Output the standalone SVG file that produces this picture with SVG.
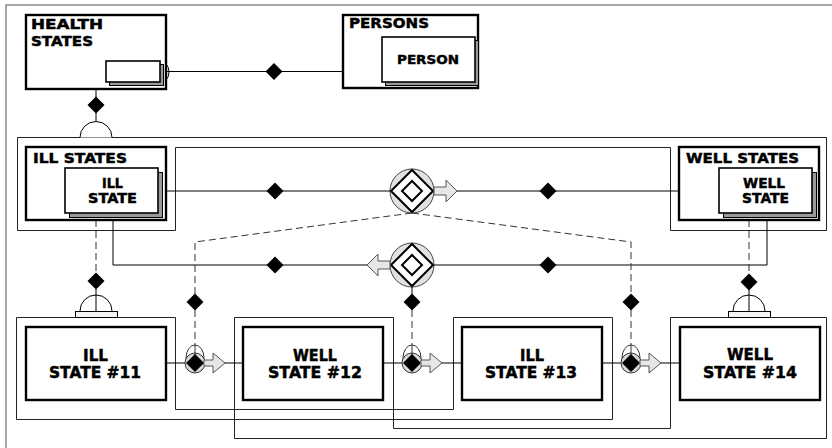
<svg xmlns="http://www.w3.org/2000/svg" width="832" height="448" viewBox="0 0 832 448">
<defs>
<style>
.frame{fill:#fff;stroke:#8a8a8a;stroke-width:1.5}
.group{fill:none;stroke:#222;stroke-width:1}
.box{fill:#fff;stroke:#000;stroke-width:2.4}
.sbox{fill:#fff;stroke:#000;stroke-width:1.6}
.shadow{fill:#9a9a9a;stroke:#000;stroke-width:1}
.lbl{font-family:"DejaVu Sans","Liberation Sans",sans-serif;font-weight:bold;fill:#000;stroke:#000;stroke-width:0.45}
.t13{font-size:13.5px}
.t12{font-size:12px}
.t15{font-size:15px}
.link{fill:none;stroke:#000;stroke-width:1}
.dash{fill:none;stroke:#333;stroke-width:1;stroke-dasharray:7 4}
.dia{fill:#000}
.arrow{fill:#e6e6e6;stroke:#555;stroke-width:1}
.dome{fill:#fff;stroke:#000;stroke-width:1}
</style>
<path id="dia" d="M0,-8.5 L8.5,0 L0,8.5 L-8.5,0 Z"/>
<path id="arr" d="M0,-4 H12 V-11 L23,0 L12,11 V4 H0 Z"/>
<path id="arrs" d="M0,-3 H9 V-10 L21,0 L9,10 V3 H0 Z"/>
<!-- gerund junction: ringed double diamond -->
<g id="tj">
<circle r="22" fill="#e2e2e2" stroke="#444" stroke-width="1"/>
<path d="M0,-21 L21,0 L0,21 L-21,0 Z" fill="#fff" stroke="#000" stroke-width="2"/>
<path d="M0,-10 L10,0 L0,10 L-10,0 Z" fill="#fff" stroke="#000" stroke-width="2"/>
</g>
<!-- transition junction on the state chain -->
<g id="bj">
<ellipse cx="0" cy="-5" rx="9" ry="13" fill="#fff" stroke="#333" stroke-width="1"/>
<circle r="10" fill="#d8d8d8" stroke="#333" stroke-width="1"/>
<line x1="0" y1="-18" x2="0" y2="-8" stroke="#333" stroke-width="1"/>
<path d="M0,-9 L9,0 L0,9 L-9,0 Z" fill="#000"/>
</g>
</defs>

<rect class="frame" x="6" y="5" width="850" height="460"/>

<!-- grouping outlines -->
<g id="groups">
<path class="group" d="M17.5,137.5 H826.5 V230.5 H670.5 V147.5 H175.5 V230.5 H17.5 Z"/>
<path class="group" d="M16.5,317.5 H175.5 V409.5 H453.5 V317.5 H612.5 V419.5 H16.5 Z"/>
<path class="group" d="M234.5,317.5 H393.5 V428.5 H670.5 V317.5 H826.5 V438.5 H234.5 Z"/>
</g>

<g id="connectors">
<!-- health states to person -->
<path class="link" d="M164,71.5 H382"/>
<use href="#dia" class="dia" x="274" y="71.5"/>
<path class="dome" d="M160,61 A9,11 0 0 1 160,83"/>
<path class="link" d="M164.5,66 V77 M164,71.5 H169"/>
<!-- health states subtype -->
<path class="link" d="M96,89 V122"/>
<use href="#dia" class="dia" x="96" y="105"/>
<path class="dome" d="M80,137.5 A16,16 0 0 1 112,137.5"/>
<!-- ill state / well state relationships -->
<path class="link" d="M162,191 H719"/>
<use href="#dia" class="dia" x="275" y="191"/>
<use href="#dia" class="dia" x="548" y="191"/>
<path class="link" d="M113,217 V265 H767 V217"/>
<use href="#dia" class="dia" x="275" y="265"/>
<use href="#dia" class="dia" x="548" y="265"/>
<use href="#tj" x="412" y="191"/>
<use href="#arr" class="arrow" x="434" y="191"/>
<use href="#tj" x="412" y="265"/>
<use href="#arr" class="arrow" transform="translate(390,265) scale(-1,1)"/>
<!-- ill states subtype of #11 -->
<path class="dash" d="M96,220 V273"/>
<use href="#dia" class="dia" x="96" y="281"/>
<path class="link" d="M96,289 V311"/>
<path class="dome" d="M80,311 A16,16 0 0 1 112,311"/>
<path class="link" d="M96,295 V311"/>
<rect x="75.5" y="311.5" width="42" height="6" fill="#f4f4f4" stroke="#000" stroke-width="1"/>
<!-- well states subtype of #14 -->
<path class="dash" d="M749,220 V274"/>
<use href="#dia" class="dia" x="749" y="282"/>
<path class="link" d="M749,290 V311"/>
<path class="dome" d="M733,311 A16,16 0 0 1 765,311"/>
<path class="link" d="M749,295 V311"/>
<rect x="728.5" y="311.5" width="42" height="6" fill="#f4f4f4" stroke="#000" stroke-width="1"/>
<!-- dashed links from gerunds to transitions -->
<path class="dash" d="M412,213 L195,242 V294"/>
<path class="dash" d="M412,213 L631,242 V294"/>
<path class="link" d="M412,287 V294"/>
<use href="#dia" class="dia" x="195" y="302"/>
<use href="#dia" class="dia" x="412" y="302"/>
<use href="#dia" class="dia" x="631" y="302"/>
<path class="dash" d="M195,310 V345 M412,310 V345 M631,310 V345"/>
<!-- state chain -->
<path class="link" d="M166,363 H243 M383,363 H462 M602,363 H680"/>
<use href="#bj" x="195" y="363"/>
<use href="#arrs" class="arrow" x="204" y="363"/>
<use href="#bj" x="412" y="363"/>
<use href="#arrs" class="arrow" x="421" y="363"/>
<use href="#bj" x="631" y="363"/>
<use href="#arrs" class="arrow" x="640" y="363"/>
</g>

<g id="health-states">
<rect class="box" x="26" y="15" width="140" height="74"/>
<text class="lbl t13" x="31" y="29" textLength="72" lengthAdjust="spacingAndGlyphs">HEALTH</text>
<text class="lbl t13" x="31" y="46" textLength="62" lengthAdjust="spacingAndGlyphs">STATES</text>
<rect class="shadow" x="109.5" y="64.5" width="54" height="21"/>
<rect class="sbox" x="106" y="61" width="54" height="21"/>
</g>

<g id="persons">
<rect class="box" x="343" y="15" width="135" height="73"/>
<text class="lbl t13" x="349" y="28" textLength="80" lengthAdjust="spacingAndGlyphs">PERSONS</text>
</g>
<g id="person">
<rect class="shadow" x="385.5" y="40.5" width="93" height="45"/>
<rect class="sbox" x="382" y="37" width="93" height="45"/>
<text class="lbl t12" x="397" y="64" textLength="62" lengthAdjust="spacingAndGlyphs">PERSON</text>
</g>

<g id="ill-states">
<rect class="box" x="26" y="147" width="140" height="73"/>
<text class="lbl t13" x="33" y="163" textLength="94" lengthAdjust="spacingAndGlyphs">ILL STATES</text>
</g>
<g id="ill-state">
<rect class="shadow" x="69.5" y="172.5" width="93" height="45"/>
<rect class="sbox" x="65" y="168" width="93" height="45"/>
<text class="lbl t13" x="102" y="188" textLength="21" lengthAdjust="spacingAndGlyphs">ILL</text>
<text class="lbl t13" x="88" y="203" textLength="49" lengthAdjust="spacingAndGlyphs">STATE</text>
</g>

<g id="well-states">
<rect class="box" x="679" y="147" width="140" height="73"/>
<text class="lbl t13" x="686" y="163" textLength="113" lengthAdjust="spacingAndGlyphs">WELL STATES</text>
</g>
<g id="well-state">
<rect class="shadow" x="723.5" y="172.5" width="93" height="45"/>
<rect class="sbox" x="719" y="168" width="93" height="45"/>
<text class="lbl t13" x="743" y="188" textLength="42" lengthAdjust="spacingAndGlyphs">WELL</text>
<text class="lbl t13" x="742" y="203" textLength="47" lengthAdjust="spacingAndGlyphs">STATE</text>
</g>

<g id="ill-state-11">
<rect class="box" x="26" y="327" width="140" height="73"/>
<text class="lbl t15" x="83" y="361" textLength="25" lengthAdjust="spacingAndGlyphs">ILL</text>
<text class="lbl t15" x="49" y="378" textLength="92" lengthAdjust="spacingAndGlyphs">STATE #11</text>
</g>
<g id="well-state-12">
<rect class="box" x="243" y="327" width="140" height="73"/>
<text class="lbl t15" x="293" y="361" textLength="44" lengthAdjust="spacingAndGlyphs">WELL</text>
<text class="lbl t15" x="268" y="378" textLength="94" lengthAdjust="spacingAndGlyphs">STATE #12</text>
</g>
<g id="ill-state-13">
<rect class="box" x="462" y="327" width="140" height="73"/>
<text class="lbl t15" x="520" y="361" textLength="24" lengthAdjust="spacingAndGlyphs">ILL</text>
<text class="lbl t15" x="485" y="378" textLength="92" lengthAdjust="spacingAndGlyphs">STATE #13</text>
</g>
<g id="well-state-14">
<rect class="box" x="680" y="327" width="140" height="73"/>
<text class="lbl t15" x="727" y="360" textLength="46" lengthAdjust="spacingAndGlyphs">WELL</text>
<text class="lbl t15" x="703" y="378" textLength="94" lengthAdjust="spacingAndGlyphs">STATE #14</text>
</g>
</svg>
